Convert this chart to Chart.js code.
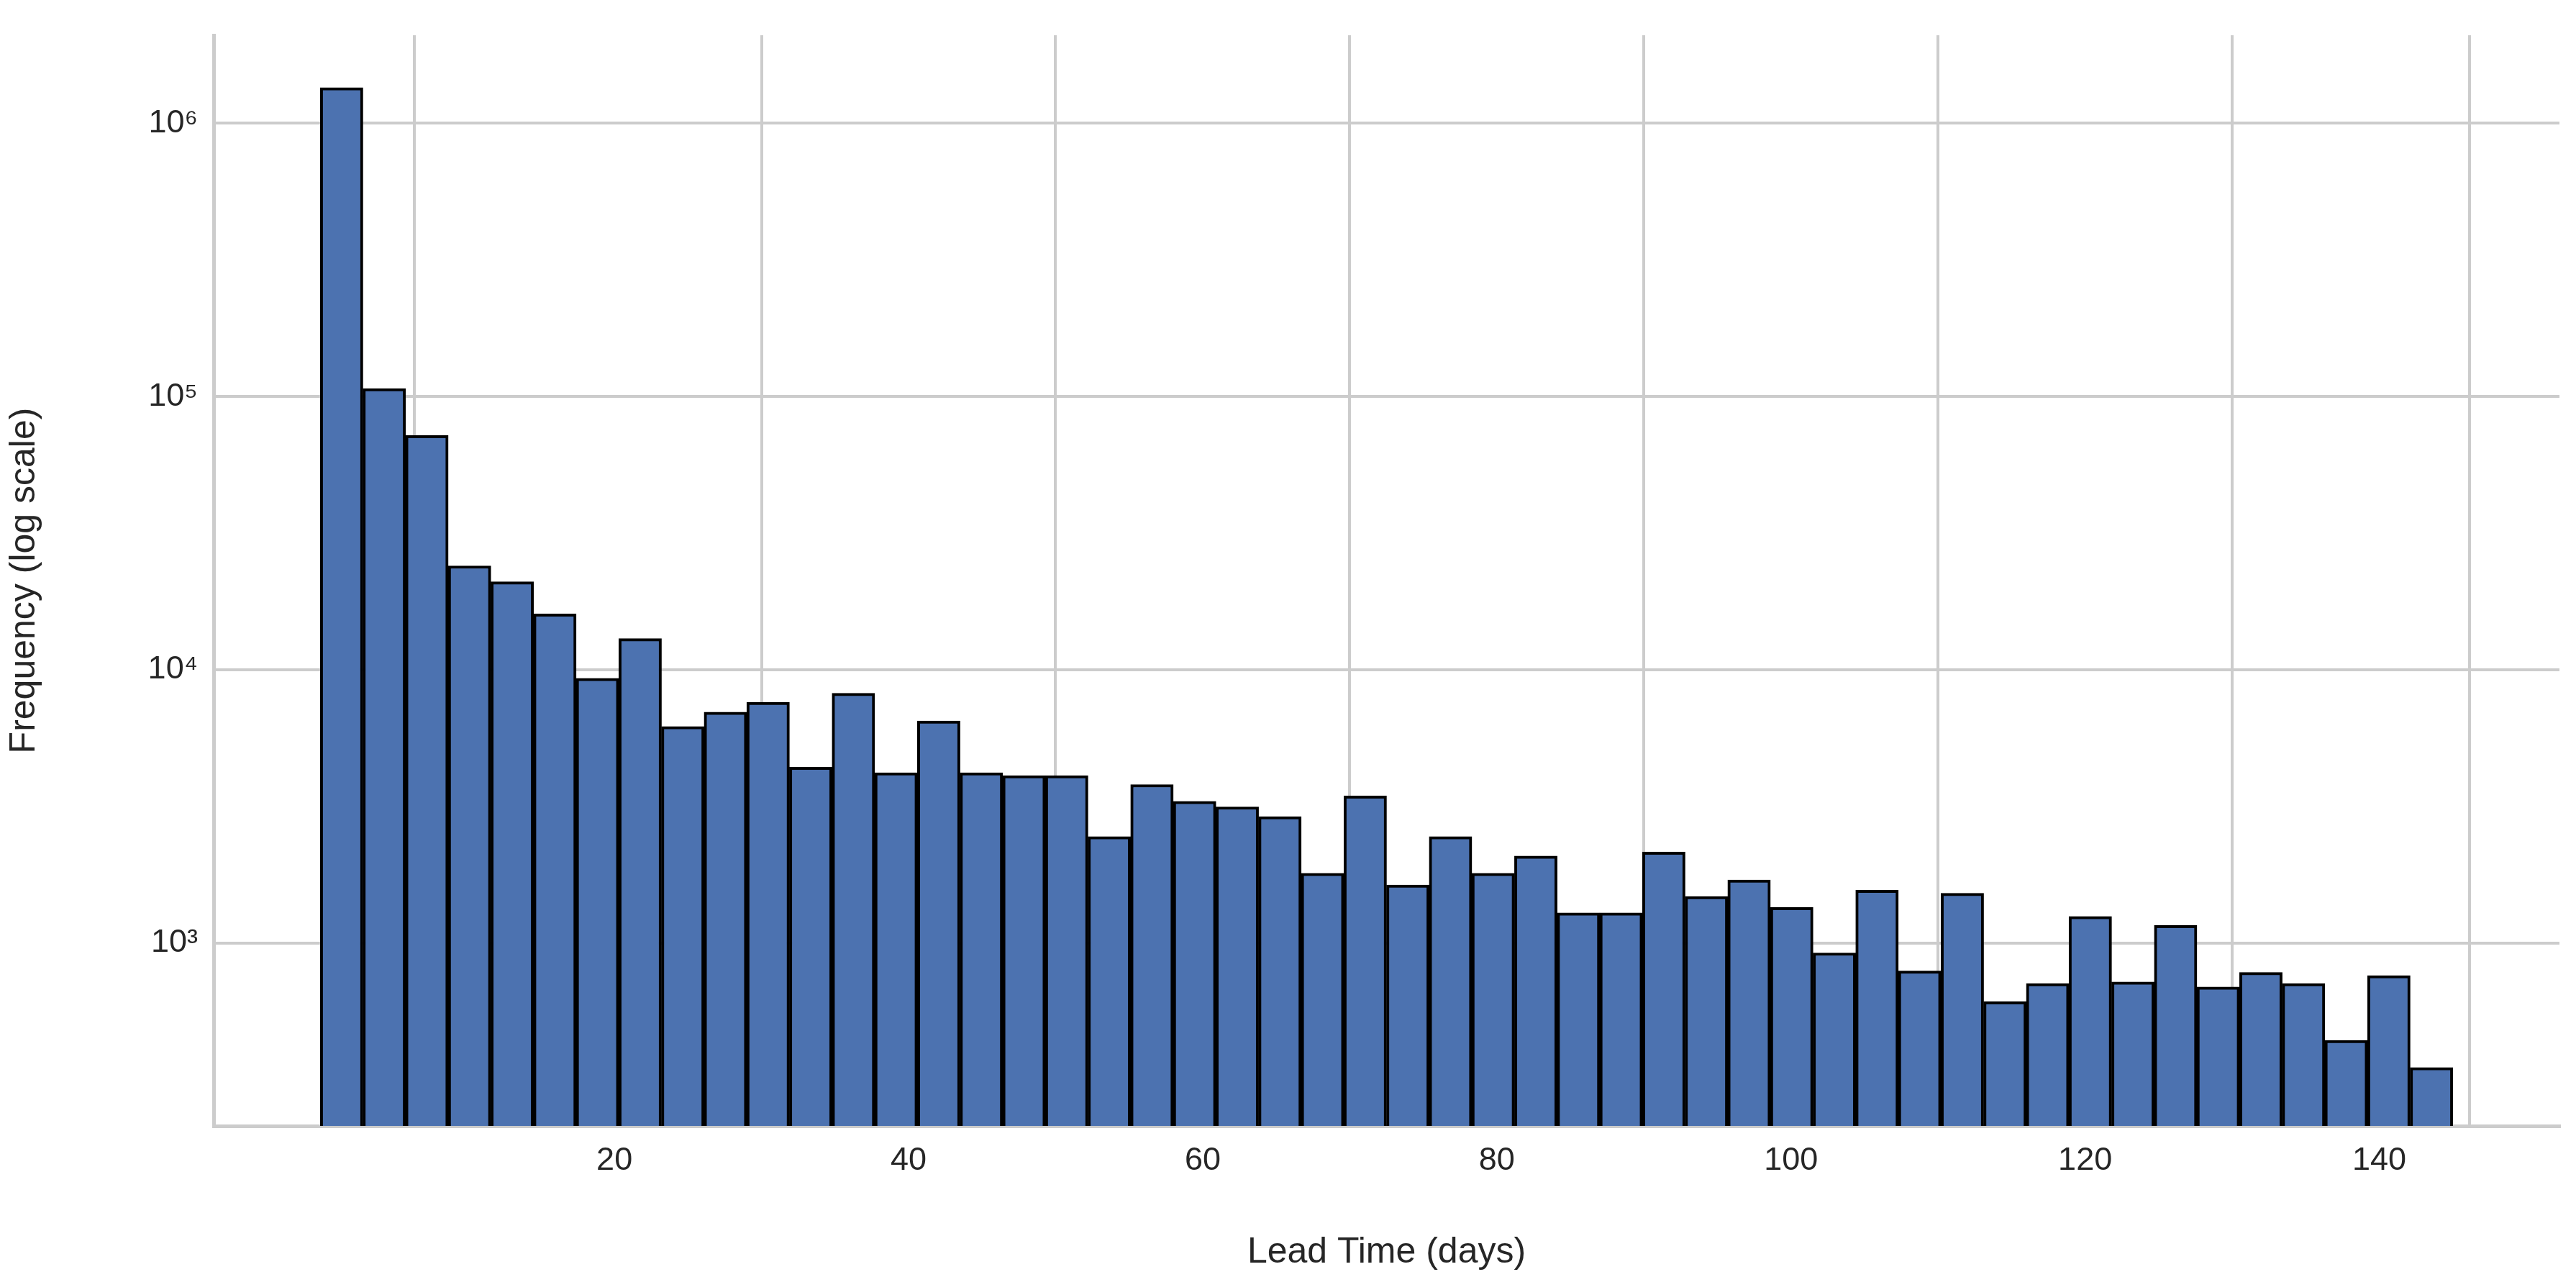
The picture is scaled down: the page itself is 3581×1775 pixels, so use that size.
<!DOCTYPE html>
<html>
<head>
<meta charset="utf-8">
<script src="https://cdn.jsdelivr.net/npm/chart.js@4"></script>
<style>
  html, body { margin: 0; padding: 0; background: #fff; }
</style>
</head>
<body>
<canvas id="hist" width="3581" height="1775"></canvas>
<script>
// Histogram of lead time, 50 bins from 0 to 145 days
const binStart = 0;
const binWidth = 2.9;
const frequencies = [
    1350000, 107000, 72000, 24000, 21000, 16000, 9300, 13000, 6200, 7000,
    7600, 4400, 8200, 4200, 6500, 4200, 4100, 4100, 2450, 3800,
    3300, 3150, 2900, 1800, 3450, 1630, 2450, 1800, 2080, 1290,
    1290, 2150, 1480, 1700, 1350, 920, 1560, 790, 1520, 610,
    710, 1250, 720, 1160, 690, 780, 710, 440, 760, 350
];
const yTicks = [1000, 10000, 100000, 1000000];
const yTickLabels = ['10³', '10⁴', '10⁵', '10⁶'];

const points = frequencies.map((f, i) => ({ x: binStart + binWidth * (i + 0.5), y: f }));

const ctx = document.getElementById('hist').getContext('2d');
new Chart(ctx, {
    type: 'bar',
    data: {
        datasets: [{
            data: points,
            backgroundColor: '#4c72b0',
            borderColor: '#000000',
            borderWidth: 4,
            barPercentage: 1,
            categoryPercentage: 1,
            base: 214
        }]
    },
    options: {
        responsive: false,
        devicePixelRatio: 1,
        animation: false,
        layout: { padding: { top: 18, right: 23, left: 0, bottom: 0 } },
        plugins: { legend: { display: false }, tooltip: { enabled: false } },
        scales: {
            x: {
                type: 'linear',
                min: -7.25,
                max: 152.25,
                offset: false,
                grid: { color: '#cccccc', lineWidth: 4, drawTicks: false },
                border: { color: '#cccccc', width: 5 },
                ticks: {
                    stepSize: 20,
                    padding: 22,
                    color: '#262626',
                    font: { family: 'Liberation Sans', size: 45 },
                    callback: v => (v % 20 === 0 && v >= 0 && v <= 140) ? String(v) : ''
                },
                title: {
                    display: true,
                    text: 'Lead Time (days)',
                    color: '#262626',
                    font: { family: 'Liberation Sans', size: 50 },
                    padding: { top: 6 }
                },
                afterFit: s => { s.height = 210; }
            },
            y: {
                type: 'logarithmic',
                min: 214,
                max: 2100000,
                grid: { color: '#cccccc', lineWidth: 4, drawTicks: false },
                border: { color: '#cccccc', width: 5 },
                afterBuildTicks: s => { s.ticks = yTicks.map(v => ({ value: v })); },
                ticks: {
                    padding: 22,
                    color: '#262626',
                    font: { family: 'Liberation Sans', size: 45 },
                    callback: (v) => yTickLabels[yTicks.indexOf(v)] || ''
                },
                title: {
                    display: true,
                    text: 'Frequency (log scale)',
                    color: '#262626',
                    font: { family: 'Liberation Sans', size: 50 },
                    padding: { bottom: 10 }
                },
                afterFit: s => { s.width = 297; }
            }
        }
    }
});
</script>
</body>
</html>
